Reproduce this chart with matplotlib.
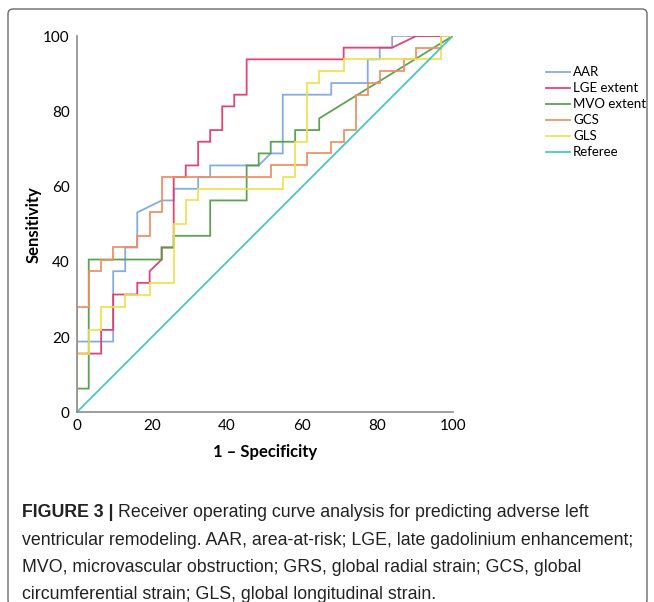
import matplotlib
matplotlib.use("Agg")
import matplotlib.pyplot as plt
from matplotlib.patches import FancyBboxPatch
from matplotlib import font_manager

# ROC curves (1 - specificity, sensitivity), in percent
aar_x = [0, 0, 9.7, 9.7, 12.9, 12.9, 16.1, 16.1, 22.6, 25.8, 25.8, 32.3, 32.3, 35.5, 35.5,
         48.4, 51.6, 54.8, 54.8, 67.7, 67.7, 77.4, 77.4, 80.6, 80.6, 83.9, 83.9, 100]
aar_y = [0, 18.8, 18.8, 37.5, 37.5, 43.8, 43.8, 53.1, 56.3, 56.3, 59.4, 59.4, 62.5, 62.5, 65.6,
         65.6, 68.8, 68.8, 84.4, 84.4, 87.5, 87.5, 93.8, 93.8, 96.9, 96.9, 100, 100]

lge_x = [0, 0, 6.5, 6.5, 9.7, 9.7, 16.1, 16.1, 19.4, 19.4, 22.6, 22.6, 25.8, 25.8, 29.0, 29.0,
         32.3, 32.3, 35.5, 35.5, 38.7, 38.7, 41.9, 41.9, 45.2, 45.2, 71.0, 71.0, 83.9, 90.3, 100]
lge_y = [0, 15.6, 15.6, 21.9, 21.9, 31.3, 31.3, 34.4, 34.4, 37.5, 40.6, 43.8, 43.8, 62.5, 62.5, 65.6,
         65.6, 71.9, 71.9, 75.0, 75.0, 81.3, 81.3, 84.4, 84.4, 93.8, 93.8, 96.9, 96.9, 100, 100]

mvo_x = [0, 0, 3.2, 3.2, 22.6, 22.6, 25.8, 25.8, 35.5, 35.5, 45.2, 45.2, 48.4, 48.4, 51.6, 51.6,
         58.1, 58.1, 64.5, 64.5, 100]
mvo_y = [0, 6.3, 6.3, 40.6, 40.6, 43.8, 43.8, 46.9, 46.9, 56.3, 56.3, 65.6, 65.6, 68.8, 68.8, 71.9,
         71.9, 75.0, 75.0, 78.1, 100]

gcs_x = [0, 0, 3.2, 3.2, 6.5, 6.5, 9.7, 9.7, 16.1, 16.1, 19.4, 19.4, 22.6, 22.6, 51.6, 51.6,
         61.3, 61.3, 67.7, 67.7, 71.0, 71.0, 74.2, 74.2, 77.4, 77.4, 80.6, 80.6, 87.1, 87.1,
         90.3, 90.3, 96.8, 96.8, 100]
gcs_y = [0, 28.1, 28.1, 37.5, 37.5, 40.6, 40.6, 43.8, 43.8, 46.9, 46.9, 53.1, 53.1, 62.5, 62.5, 65.6,
         65.6, 68.8, 68.8, 71.9, 71.9, 75.0, 75.0, 84.4, 84.4, 87.5, 87.5, 90.6, 90.6, 93.8,
         93.8, 96.9, 96.9, 100, 100]

gls_x = [0, 0, 3.2, 3.2, 6.5, 6.5, 12.9, 12.9, 19.4, 19.4, 25.8, 25.8, 29.0, 29.0, 32.3, 32.3,
         54.8, 54.8, 58.1, 58.1, 61.3, 61.3, 64.5, 64.5, 71.0, 71.0, 96.8, 96.8, 100]
gls_y = [0, 15.6, 15.6, 21.9, 21.9, 28.1, 28.1, 31.3, 31.3, 34.4, 34.4, 50.0, 50.0, 56.3, 56.3, 59.4,
         59.4, 62.5, 62.5, 71.9, 71.9, 87.5, 87.5, 90.6, 90.6, 93.8, 93.8, 100, 100]

ref_x = [0, 100]
ref_y = [0, 100]

labels = ["AAR", "LGE extent", "MVO extent", "GCS", "GLS", "Referee"]
colors = ["#7ea8e4", "#e23a6c", "#559d4a", "#f08c60", "#eee24a", "#3fc7b3"]
ticks = [0, 20, 40, 60, 80, 100]

caption = [
    "Receiver operating curve analysis for predicting adverse left",
    "ventricular remodeling. AAR, area-at-risk; LGE, late gadolinium enhancement;",
    "MVO, microvascular obstruction; GRS, global radial strain; GCS, global",
    "circumferential strain; GLS, global longitudinal strain.",
]

names = {f.name for f in font_manager.fontManager.ttflist}
cap_font = "Liberation Sans Narrow" if "Liberation Sans Narrow" in names else "Liberation Sans"
cap_size = 13.5 if cap_font == "Liberation Sans Narrow" else 12.8
ax_font = "Lato" if "Lato" in names else "DejaVu Sans"

W, H = 654, 602
fig = plt.figure(figsize=(W / 100, H / 100), dpi=100)

# outer frame
frame = FancyBboxPatch((8 / W, 1 - 9 / H - 0.99), (647 - 8) / W, 0.99,
                       boxstyle="round,pad=0,rounding_size=0.008",
                       transform=fig.transFigure, fill=False, ec="#6a6a6a", lw=1.0)
fig.patches.append(frame)

ax = fig.add_axes([76.7 / W, 1 - 412.3 / H, 376 / W, 376.3 / H])

series = [(aar_x, aar_y), (lge_x, lge_y), (mvo_x, mvo_y),
          (gcs_x, gcs_y), (gls_x, gls_y), (ref_x, ref_y)]
for (xs, ys), lab, col in zip(series, labels, colors):
    ax.plot(xs, ys, color=col, lw=1.3, label=lab, alpha=0.95, solid_joinstyle="miter")

ax.set_xlim(0, 100)
ax.set_ylim(0, 100)
ax.set_xticks(ticks)
ax.set_yticks(ticks)
ax.set_xticklabels([str(t) for t in ticks], fontfamily=ax_font, fontsize=11)
ax.set_yticklabels([str(t) for t in ticks], fontfamily=ax_font, fontsize=11)
ax.tick_params(length=0, pad=5)
for s in ["top", "right"]:
    ax.spines[s].set_visible(False)
for s in ["left", "bottom"]:
    ax.spines[s].set_color("#8c8c8c")
    ax.spines[s].set_linewidth(1.2)

ax.set_xlabel("1 \u2013 Specificity", fontfamily=ax_font, fontweight="bold", fontsize=12, labelpad=8)
ax.set_ylabel("Sensitivity", fontfamily=ax_font, fontweight="bold", fontsize=12)
ax.yaxis.set_label_coords(-0.092, 0.5)

fig.legend(loc="upper left", bbox_to_anchor=(546 / W, 1 - 66.5 / H), frameon=False,
           prop={"family": ax_font, "size": 9.5}, handlelength=1.8, handletextpad=0.25,
           labelspacing=0.3, borderaxespad=0, borderpad=0)

# caption
fig.canvas.draw()
r = fig.canvas.get_renderer()
base = [517, 545, 572, 599]
t0 = fig.text(22 / W, 1 - base[0] / H, "FIGURE 3 | ", fontfamily=cap_font, fontweight="bold",
              fontsize=cap_size, va="baseline", ha="left", color="#222222")
bb = t0.get_window_extent(renderer=r)
fig.text(bb.x1 / W, 1 - base[0] / H, caption[0], fontfamily=cap_font, fontsize=cap_size,
         va="baseline", ha="left", color="#222222")
for line, b in zip(caption[1:], base[1:]):
    fig.text(22 / W, 1 - b / H, line, fontfamily=cap_font, fontsize=cap_size,
             va="baseline", ha="left", color="#222222")

fig.savefig("out.png", dpi=100)
